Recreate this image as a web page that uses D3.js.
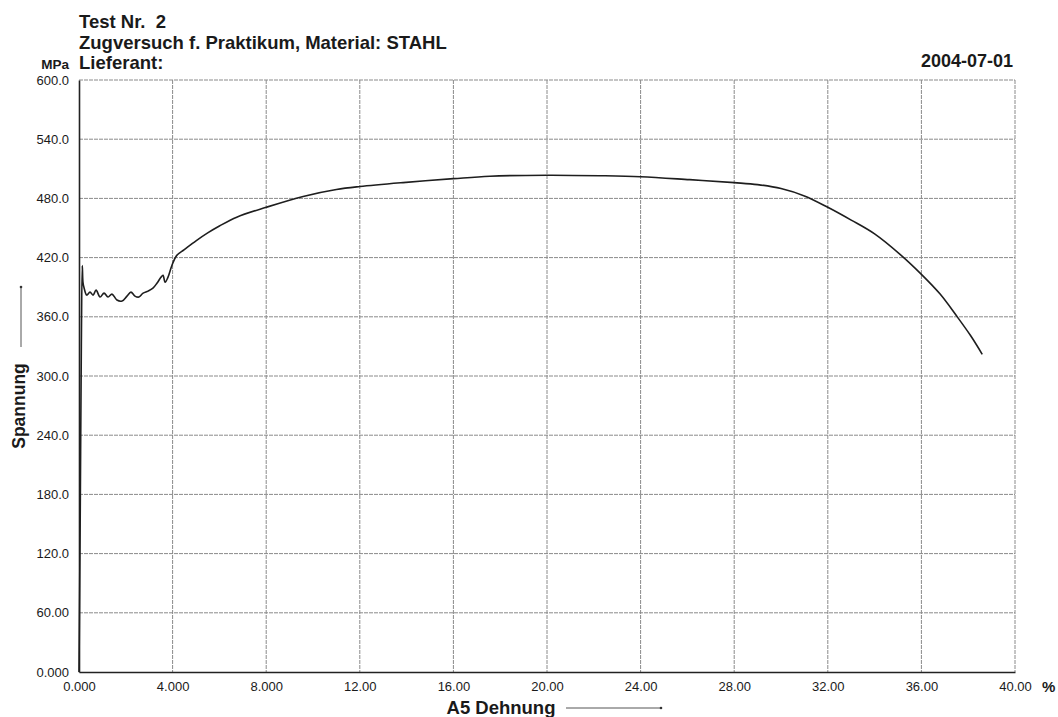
<!DOCTYPE html>
<html>
<head>
<meta charset="utf-8">
<script src="https://cdn.jsdelivr.net/npm/d3@7"></script>
<style>
  body { margin: 0; background: #fff; }
  text { font-family: "Liberation Sans", Arial, sans-serif; fill: #1a1a1a; white-space: pre; }
  .tick text { font-size: 13px; }
  .head { font-size: 18.5px; font-weight: bold; }
</style>
</head>
<body>
<div id="chart"></div>
<script>
// sizes
var width = 1058;
var height = 717;
var plotLeft = 79, plotRight = 1015, plotTop = 80, plotBottom = 672;

// data (strain %, stress MPa)
var strain = [0, 0.05, 0.1, 0.14, 0.17, 0.21, 0.33, 0.47, 0.6, 0.73, 0.9, 1.07, 1.24, 1.41,
  1.62, 1.84, 2.05, 2.22, 2.39, 2.56, 2.74, 2.95, 3.16, 3.33, 3.5, 3.59, 3.68, 3.8, 3.97,
  4.17, 4.5, 5.0, 5.5, 6.0, 6.74, 8.0, 9.58, 11.0, 12.0, 13.85, 16.0, 17.56, 20.0,
  22.26, 24.0, 26.1, 28.0, 29.0, 30.0, 31.0, 32.0, 33.0, 34.0, 35.1, 36.0, 36.8,
  37.5, 38.1, 38.6];
var stress = [0, 150, 330, 412, 395, 390, 382, 385, 382, 387, 380, 384, 380, 383,
  377, 376, 381, 385, 381, 380, 384, 386, 389, 394, 400, 402, 395, 400, 412,
  422, 428, 437, 445, 452, 461, 471, 482, 489, 492, 496, 500, 502.5, 503.5,
  503, 502, 499, 496, 494, 490, 482.5, 471, 458, 444, 423, 403, 383,
  361, 341, 322];

var xTicks = [0, 4, 8, 12, 16, 20, 24, 28, 32, 36, 40];
var xTickLabels = ["0.000", "4.000", "8.000", "12.00", "16.00", "20.00", "24.00", "28.00", "32.00", "36.00", "40.00"];
var yTicks = [0, 60, 120, 180, 240, 300, 360, 420, 480, 540, 600];
var yTickLabels = ["0.000", "60.00", "120.0", "180.0", "240.0", "300.0", "360.0", "420.0", "480.0", "540.0", "600.0"];

var headLines = ["Test Nr.  2", "Zugversuch f. Praktikum, Material: STAHL", "Lieferant:"];

var svg = d3.select("#chart").append("svg")
  .attr("width", width)
  .attr("height", height);

var xScale = d3.scaleLinear().domain([0, 40]).range([plotLeft, plotRight]);
var yScale = d3.scaleLinear().domain([0, 600]).range([plotBottom, plotTop]);

// grid
svg.append("g").selectAll("line").data(xTicks.slice(1)).enter()
  .append("line")
  .attr("x1", function(d) { return xScale(d); })
  .attr("x2", function(d) { return xScale(d); })
  .attr("y1", plotTop).attr("y2", plotBottom)
  .attr("stroke", "#8a8a8a").attr("stroke-width", 1)
  .attr("stroke-dasharray", "4,1");
svg.append("g").selectAll("line").data(yTicks.slice(1)).enter()
  .append("line")
  .attr("x1", plotLeft).attr("x2", plotRight)
  .attr("y1", function(d) { return yScale(d); })
  .attr("y2", function(d) { return yScale(d); })
  .attr("stroke", "#8a8a8a").attr("stroke-width", 1)
  .attr("stroke-dasharray", "4,1");

// axes
var xAxis = d3.axisBottom(xScale).tickValues(xTicks).tickSize(0).tickPadding(10)
  .tickFormat(function(d, i) { return xTickLabels[i]; });
var yAxis = d3.axisLeft(yScale).tickValues(yTicks).tickSize(0).tickPadding(10)
  .tickFormat(function(d, i) { return yTickLabels[i]; });

var gx = svg.append("g")
  .attr("transform", "translate(0," + plotBottom + ")")
  .call(xAxis);
gx.select(".domain").attr("stroke", "#222").attr("stroke-width", 1.6);

var gy = svg.append("g")
  .attr("transform", "translate(" + plotLeft + ",0)")
  .call(yAxis);
gy.select(".domain").attr("stroke", "#222").attr("stroke-width", 1.6);

// curve
var pts = strain.map(function(s, i) { return [s, stress[i]]; });
var line = d3.line()
  .x(function(d) { return xScale(d[0]); })
  .y(function(d) { return yScale(d[1]); })
  .curve(d3.curveCatmullRom.alpha(0.5));

svg.append("path")
  .datum(pts)
  .attr("d", line)
  .attr("fill", "none")
  .attr("stroke", "#1e1e1e")
  .attr("stroke-width", 1.6)
  .attr("stroke-linejoin", "round");

// header
svg.selectAll("text.head").data(headLines).enter()
  .append("text")
  .attr("class", "head")
  .attr("x", plotLeft)
  .attr("y", function(d, i) { return 28 + i * 20.5; })
  .text(function(d) { return d; });

svg.append("text").attr("class", "head")
  .attr("x", 1013).attr("y", 67)
  .attr("text-anchor", "end")
  .style("font-size", "18px")
  .text("2004-07-01");

svg.append("text")
  .attr("x", 69).attr("y", 69)
  .attr("text-anchor", "end")
  .attr("font-size", 13.5).attr("font-weight", "bold")
  .text("MPa");

svg.append("text")
  .attr("x", 1042).attr("y", 692)
  .attr("font-size", 15).attr("font-weight", "bold")
  .text("%");

// axis titles with arrows
svg.append("text").attr("class", "head")
  .attr("x", 501).attr("y", 714)
  .attr("text-anchor", "middle")
  .text("A5 Dehnung");
svg.append("line")
  .attr("x1", 566).attr("x2", 661).attr("y1", 708).attr("y2", 708)
  .attr("stroke", "#555").attr("stroke-width", 1);
svg.append("circle").attr("cx", 661).attr("cy", 708).attr("r", 1.3).attr("fill", "#333");

svg.append("text").attr("class", "head")
  .attr("transform", "translate(25,406)rotate(-90)")
  .attr("text-anchor", "middle")
  .style("font-size", "17.5px")
  .text("Spannung");
svg.append("line")
  .attr("x1", 21).attr("x2", 21).attr("y1", 287).attr("y2", 347)
  .attr("stroke", "#555").attr("stroke-width", 1);
svg.append("circle").attr("cx", 21).attr("cy", 287).attr("r", 1.3).attr("fill", "#333");
</script>
</body>
</html>
